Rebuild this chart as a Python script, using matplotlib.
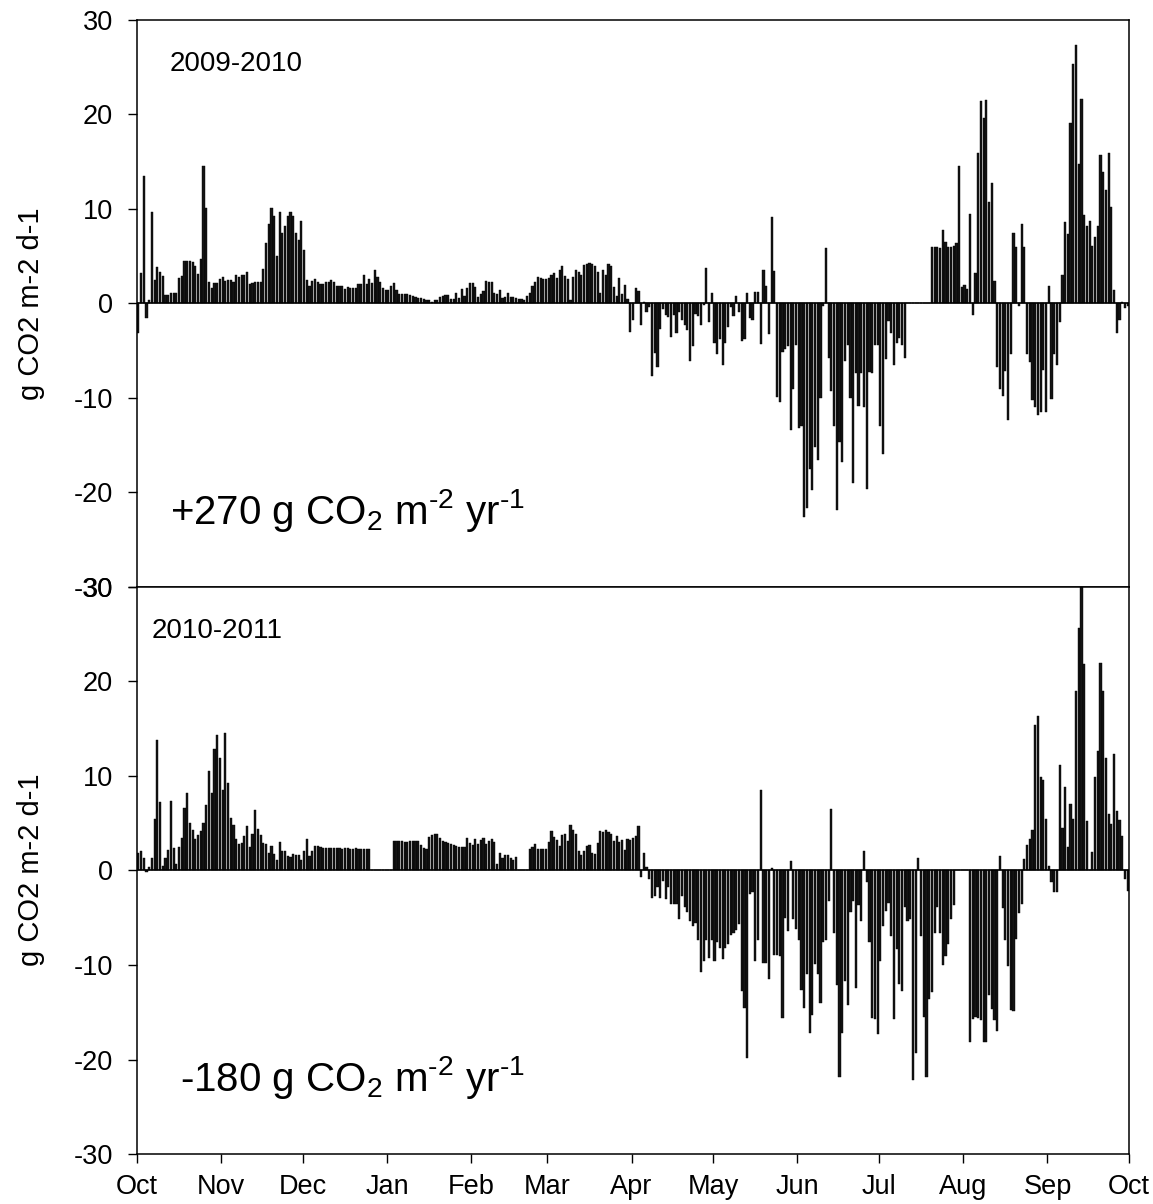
import numpy as np
import matplotlib
matplotlib.use("Agg")
import matplotlib.pyplot as plt

plt.rcParams['font.family'] = ['Liberation Sans', 'DejaVu Sans']
plt.rcParams['mathtext.fontset'] = 'custom'
plt.rcParams['mathtext.rm'] = 'Liberation Sans'
plt.rcParams['mathtext.default'] = 'regular'
plt.rcParams['axes.unicode_minus'] = False

# daily NEE (g CO2 m-2 d-1), day 0 = 1 Oct
nee_0910 = [
    -3.1, 3.2, 13.5, -1.5, 0.4, 9.7, 2.5, 3.9, 3.3, 2.9,
    0.9, 0.9, 1.1, 1.1, 1.1, 2.7, 2.9, 4.5, 4.5, 4.5,
    4.4, 4.0, 3.1, 4.7, 14.5, 10.1, 2.3, 1.6, 2.2, 2.2,
    2.6, 2.8, 2.4, 2.5, 2.5, 2.3, 3.0, 2.8, 3.0, 3.0,
    3.3, 2.1, 2.2, 2.3, 2.3, 2.3, 3.7, 6.4, 8.4, 10.1,
    9.3, 5.0, 9.7, 7.5, 8.2, 9.3, 9.7, 9.3, 7.5, 6.7,
    8.7, 5.7, 2.5, 1.8, 2.4, 2.6, 2.3, 2.1, 2.1, 2.3,
    2.3, 2.5, 2.3, 1.9, 1.8, 1.8, 1.5, 1.7, 1.6, 1.6,
    1.6, 2.1, 2.1, 3.0, 2.1, 2.6, 2.2, 3.5, 2.8, 2.3,
    1.6, 1.4, 1.4, 1.8, 2.2, 1.4, 1.0, 1.0, 1.0, 1.0,
    0.9, 0.8, 0.7, 0.6, 0.6, 0.5, 0.4, 0.4, 0.2, 0.4,
    0.4, 0.7, 0.8, 0.9, 0.9, 0.5, 0.5, 1.1, 0.6, 1.5,
    0.8, 1.6, 2.2,
    2.2, 1.7, 0.7, 1.0, 1.3, 2.4, 2.3, 2.3, 1.1, 1.0,
    1.4, 0.6, 0.7, 1.1, 0.7, 0.7, 0.6, 0.5,
    0.5, 0.4, 0.8, 1.1, 1.8, 2.3, 2.8, 2.7, 2.6, 2.6,
    2.7, 3.0, 3.2, 2.7, 3.5, 4.0, 2.9, 2.6, 0.4, 2.8,
    3.5, 3.3, 3.0, 4.1, 4.2, 4.3, 4.2, 4.0, 3.3, 1.1,
    3.5, 3.0, 4.2, 4.0, 1.7, 0.8, 2.7, 1.0, 2.0, 0.5,
    -3.0, -1.7, 1.6, 1.3, -2.3, 0.2, -0.9, -0.4, -7.7, -5.2,
    -6.7, -2.7, -0.6, -1.2, -1.4, -3.5, -1.2, -3.1, -0.9,
    -1.7, -2.3, -2.8, -6.1, -4.5, -1.1, -1.3, -2.3, -0.2, 3.8,
    -2.0, 1.1, -4.2, -5.3, -3.8, -6.5, -4.2, -2.5, -0.4, -1.3,
    0.8, -0.9, -4.0, -3.8, 1.1, -1.5, -1.8, 1.2, 1.2, -4.3,
    3.5, 1.9, -3.2, 9.1, 3.4, -9.9, -10.4, -5.1, -4.8, -4.5,
    -13.4, -9.0, -4.4, -13.2, -13.0, -22.6, -21.6, -17.5, -19.7, -15.2,
    -16.6, -10.0, -0.3, 5.9,
    -5.8, -9.3, -13.0, -21.9, -14.7, -16.8, -6.1, -4.4, -10.0, -19.0,
    -7.4, -10.9, -7.4, -11.0, -19.6, -7.2, -7.4, -4.4, -4.4, -13.0,
    -15.9, -5.9, -1.9, -3.1, -6.5, -4.2, -3.7, -4.4, -5.8,
    0, 0, 0, 0, 0, 0, 0, 0, 0,
    6.0, 6.0, 6.0, 5.9, 7.8, 6.5, 6.0, 6.0, 6.1, 6.4,
    14.5, 1.7, 2.0, 1.5, 9.5, -1.2, 3.2, 15.9, 21.4, 19.6,
    21.5, 10.7, 12.8, 2.4, -6.7, -9.1, -9.8, -7.1, -12.3, -5.3,
    7.5, 6.0, -0.3, 8.4, 6.0, -5.3, -6.2, -10.2, -11.0, -11.8,
    -11.5, -7.0, -11.5, 1.8, -10.1, -5.3, -6.5, -2.0, 3.0, 8.6,
    7.3, 19.1, 25.3, 27.3, 14.8, 21.6, 9.4, 8.2, 8.7, 6.1,
    7.0, 8.2, 15.7, 13.9, 12.0, 15.9, 10.2, 1.4, -3.1, -1.8,
    0.2, -0.5, -0.3,
]

nee_1011 = [
    1.8, 2.1, 1.3, -0.2, 0.4, 1.3, 5.5, 13.8, 7.2, 0.5,
    1.3, 2.2, 7.3, 2.4, 0.7, 2.5, 3.4, 6.6, 8.2, 5.0,
    4.3, 3.3, 3.8, 4.2, 5.0, 6.9, 10.5, 8.2, 12.9, 14.3,
    11.9, 8.5, 14.6, 9.3, 5.6, 4.8, 3.3, 2.8, 2.9, 3.7,
    4.7, 2.5, 3.9, 6.4, 4.4, 3.8, 2.9, 2.8, 1.8, 2.6,
    1.7, 1.1, 3.0, 2.1, 2.1, 1.5, 1.4, 1.7, 1.6, 1.6,
    1.1, 2.1, 3.3, 1.5, 2.1, 2.6, 2.6,
    2.5, 2.4, 2.4, 2.4, 2.4, 2.4, 2.4, 2.4, 2.3, 2.4,
    2.4, 2.3, 2.3, 2.4, 2.3, 2.3, 2.3, 2.3, 2.3,
    0, 0, 0, 0, 0, 0, 0, 0,
    3.1, 3.1, 3.1, 3.1, 3.0, 3.0, 3.1, 3.1, 3.1, 3.1,
    2.7, 2.4, 2.3,
    3.5, 3.8, 3.9, 3.9, 3.4,
    3.1, 3.0, 2.9, 2.8, 2.7, 2.6, 2.5, 2.5, 2.5,
    3.4, 2.9, 2.7, 3.3, 2.8, 3.2, 3.4, 2.8, 3.1, 3.3, 3.0,
    0.7, 1.8, 1.3, 1.6, 1.6, 1.3, 1.1, 1.4,
    0, 0, 0, 0,
    2.3, 2.5, 2.8, 2.3, 2.3, 2.3, 2.3, 3.0, 4.2, 3.5,
    3.2, 2.6, 3.8, 3.9, 3.1, 4.8, 4.3, 3.9, 2.1, 1.6,
    2.1, 2.6, 2.7, 1.8, 1.7, 2.9, 4.2, 4.1, 4.3, 4.1,
    3.9, 3.1, 3.7, 3.0, 3.2, 2.2, 3.3, 3.2, 3.4, 3.7,
    4.7, -0.7, 1.8, 0.4,
    -0.9, -2.9, -2.7, -1.7, -2.9, -1.1, -3.0, -1.7, -3.5, -3.5,
    -3.5, -5.1, -2.7, -3.9, -4.4, -5.3, -5.9, -5.6, -7.4, -10.7,
    -9.6, -7.4, -9.3, -7.4, -9.6, -7.6, -8.2, -9.4, -8.2, -7.8,
    -6.8, -6.6, -6.3, -5.7, -12.8, -14.6, -19.8, -2.5, -2.3, -9.6,
    -7.4, 8.5, -9.8, -9.8, -11.5, 0.3, -8.9, -8.9, -9.1, -15.6,
    -5.0, -6.4, 1.0, -5.1, -6.2, -7.4, -12.6, -14.5, -11.0, -17.2,
    -15.3, -9.9, -11.0, -14.0, -7.6, -7.4, -3.2, 6.5, -6.6, -12.1,
    -21.8, -17.2, -11.7, -14.2, -4.4, -3.2, -12.4, -3.6, -5.3,
    2.1, -1.2, -7.6, -15.6, -15.7, -17.3, -9.6, -5.9, -4.3, -3.4,
    -6.9, -15.7, -8.3, -12.0, -12.7, -3.9, -5.3, -5.1, -22.2, -19.3,
    1.3, -6.9, -15.5, -21.8, -13.6, -12.9, -6.6, -3.9, -6.6, -10.0,
    -9.0, -7.8, -5.1, -3.7,
    0, 0, 0, 0, 0,
    -18.1, -15.7, -15.5, -15.6, -15.8, -18.1, -18.1, -13.2, -14.7, -15.8,
    -17.0, 1.5, -4.0, -7.4, -10.1, -14.8, -14.9, -7.3, -4.5, -3.5,
    1.2, 2.7, 3.3, 4.3, 15.4, 16.3, 9.9, 9.6, 5.4, 0.5,
    -1.2, -2.3, -2.3,
    11.2, 4.5, 8.8, 2.5, 7.0, 5.5, 19.0, 25.7, 30.0, 21.8,
    5.2, 0.1, 2.0, 9.9, 12.6, 22.0, 19.0, 11.9, 6.0, 4.9,
    12.3, 6.3, 5.3, 3.7, -0.9, -2.2,
]

month_days = [0, 31, 61, 92, 123, 151, 182, 212, 243, 273, 304, 335, 365]
month_labels = ['Oct', 'Nov', 'Dec', 'Jan', 'Feb', 'Mar', 'Apr', 'May',
                'Jun', 'Jul', 'Aug', 'Sep', 'Oct']
y_ticks = [-30, -20, -10, 0, 10, 20, 30]

# (values, season label, its x in days, annual total, its x in days)
panels = [
    (nee_0910, '2009-2010', 12, r'+270 g CO$_2$ m$^{\text{-2}}$ yr$^{\text{-1}}$', 12),
    (nee_1011, '2010-2011', 5.5, r'-180 g CO$_2$ m$^{\text{-2}}$ yr$^{\text{-1}}$', 16),
]

fig = plt.figure(figsize=(11.53, 12.04), dpi=100)
ax_top = fig.add_axes([0.1188, 0.5125, 0.8604, 0.4709])
ax_bot = fig.add_axes([0.1188, 0.0415, 0.8604, 0.4710])

for ax, (vals, season, sx, total, tx) in zip([ax_top, ax_bot], panels):
    days = np.arange(len(vals))
    ax.bar(days + 0.1, vals, width=0.8, align='edge',
           color='#141414', edgecolor='black', linewidth=0.3)
    ax.axhline(0, color='black', lw=1.2)
    ax.set_xlim(0, 365)
    ax.set_ylim(-30, 30)
    ax.set_yticks(y_ticks)
    ax.tick_params(axis='both', direction='out', length=6.5, width=1.0,
                   labelsize=19.5)
    ax.tick_params(axis='y', pad=11)
    ax.tick_params(axis='x', pad=8)
    for sp in ax.spines.values():
        sp.set_linewidth(1.1)
    ax.text(sx, 24.6, season, fontsize=20, va='baseline')
    ax.text(tx, -23.3, total, fontsize=29, va='baseline')
    ax.set_xticks(month_days)

ax_top.tick_params(axis='x', bottom=False, labelbottom=False)
ax_bot.set_xticklabels(month_labels)

fig.text(31 / 1153, 1 - 304 / 1204, 'g CO2 m-2 d-1', rotation=90,
         fontsize=21, ha='center', va='center')
fig.text(31 / 1153, 1 - 870 / 1204, 'g CO2 m-2 d-1', rotation=90,
         fontsize=21, ha='center', va='center')

fig.savefig('out.png', dpi=100)
